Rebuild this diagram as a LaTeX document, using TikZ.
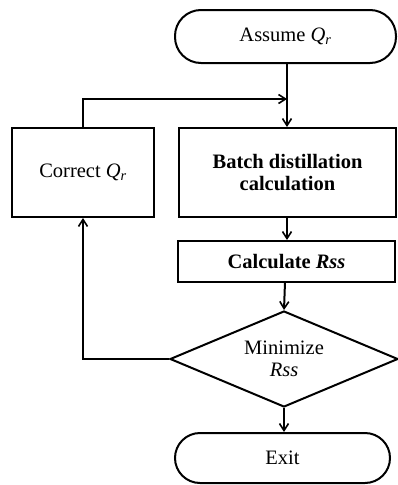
\documentclass[tikz,border=0pt]{standalone}
\usepackage{fontspec}
\setmainfont{Liberation Serif}
\usetikzlibrary{shapes.geometric,arrows.meta,calc}
\begin{document}
\begin{tikzpicture}[x=1pt,y=1pt,
  line width=2pt,
  font=\fontsize{20.5}{24}\selectfont,
  arr/.style={-{Straight Barb[length=7pt,width=9pt,line width=1.6pt]}},
  term/.style={draw,rounded corners=26pt,inner sep=0pt,align=center},
  proc/.style={draw,inner sep=0pt,align=center},
  dec/.style={draw,diamond,aspect=2.36,inner sep=0pt,minimum width=228pt,minimum height=96pt,align=center}]
\useasboundingbox (0,0) rectangle (397,-485);
\node[term,minimum width=221pt,minimum height=53pt] (assume) at (285.5,-36.5) {Assume \textit{Q\textsubscript{r}}};
\node[proc,minimum width=217pt,minimum height=89pt] (batch) at (287.5,-172.5) {\bfseries Batch distillation\\[-2pt]\bfseries calculation};
\node[proc,minimum width=142pt,minimum height=89pt] (correct) at (83,-172.5) {Correct \textit{Q\textsubscript{r}}};
\node[proc,minimum width=217pt,minimum height=41pt] (calc) at (286.5,-261.5) {\bfseries Calculate \textit{Rss}};
\node[dec] (min) at (284,-359) {Minimize\\[-2pt]\textit{Rss}};
\node[term,minimum width=215pt,minimum height=50pt,rounded corners=25pt] (exit) at (282.5,-458) {Exit};
\coordinate (j) at (287,-99);
\draw[arr] (assume.south -| j) -- (batch.north -| j);
\draw[arr] (correct.north) |- (j);
\draw[arr] (batch.south -| j) -- (calc.north -| j);
\draw[arr] (285,-282) -- (min.north);
\draw[arr] (min.south) -- (min.south |- exit.north);
\draw[arr] (min.west) -| (correct.south);
\end{tikzpicture}
\end{document}
